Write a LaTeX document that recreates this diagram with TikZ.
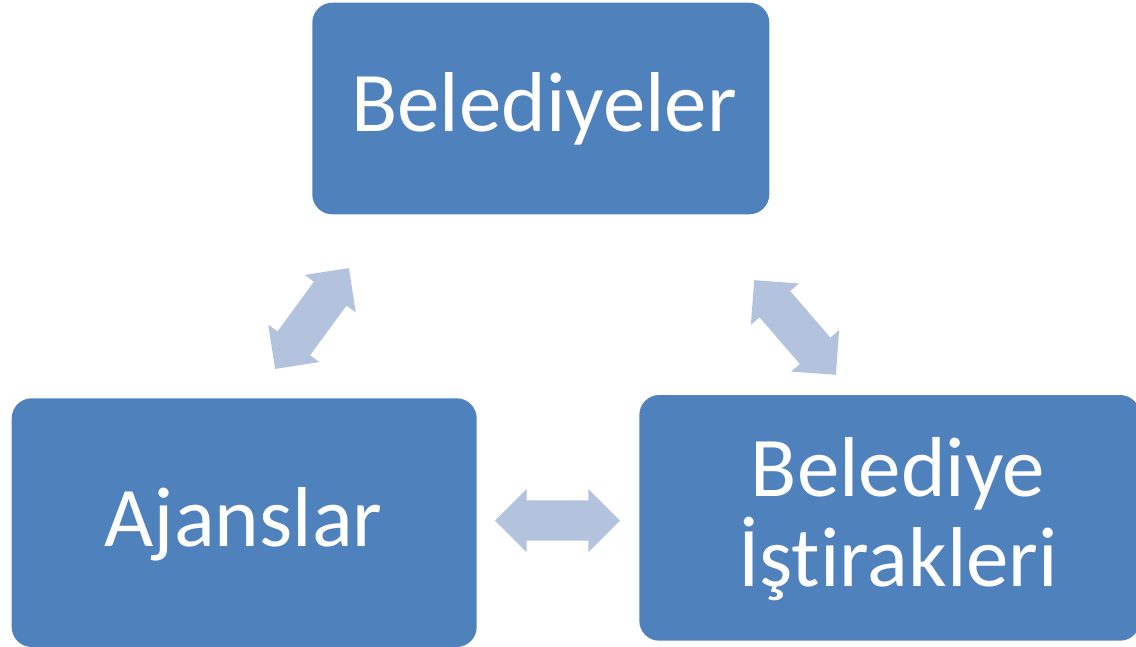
\documentclass[tikz,border=0pt]{standalone}
\usepackage{fontspec}
\setmainfont{Carlito}[Ligatures={NoCommon,NoRequired,NoContextual}]
\usetikzlibrary{shapes.arrows}
\definecolor{boxblue}{HTML}{4F81BD}
\definecolor{arrowblue}{HTML}{B3C3DE}
\begin{document}
\begin{tikzpicture}[x=1pt,y=-1pt,
  box/.style={rectangle, fill=boxblue, draw=none, rounded corners=20pt, inner sep=0pt},
  txt/.style={text=white, font=\fontsize{85}{90.7}\selectfont, inner sep=0pt},
  dblarrow/.style={double arrow, fill=arrowblue, draw=none, minimum height=125pt,
    minimum width=63pt, double arrow head extend=11.5pt, double arrow tip angle=90,
    inner xsep=0pt, inner ysep=20pt}]
\useasboundingbox (0,0) rectangle (1136,646);
% boxes
\node[box, minimum width=457pt, minimum height=211.6pt] (bel) at (540.8,108.5) {};
\node[box, minimum width=465pt, minimum height=248.7pt] (ajn) at (244.2,522.65) {};
\node[box, minimum width=500.7pt, minimum height=245.7pt] (ist) at (889.65,517.85) {};
% texts
\node[txt, anchor=base] (belt) at (544,131.7) {Belediyeler};
\node[txt, anchor=base] (ajnt) at (243.7,546.7) {Ajanslar};
\node[txt, anchor=base, align=center] (istt) at (898,586.7) {Belediye\\İştirakleri};
% arrows
\node[dblarrow, rotate=53.8] (a1) at (312,318.5) {};
\node[dblarrow, rotate=-49.2] (a2) at (795,327.5) {};
\node[dblarrow] (a3) at (557.5,520.5) {};
\end{tikzpicture}
\end{document}
